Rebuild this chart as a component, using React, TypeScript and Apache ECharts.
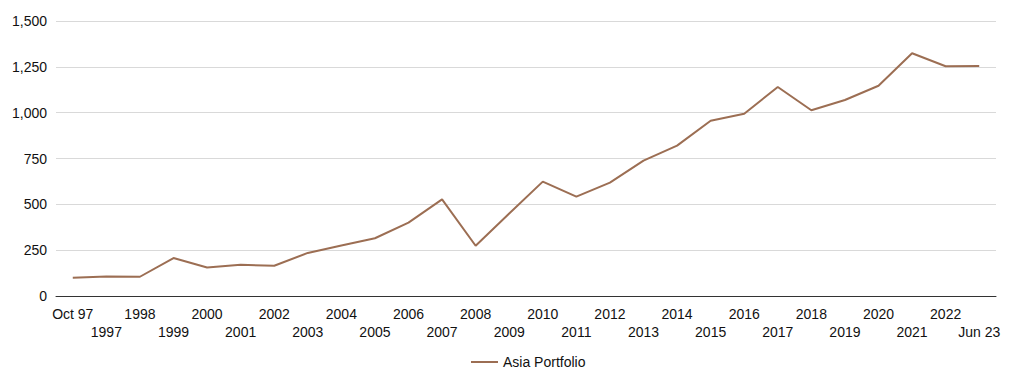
import React, { useEffect, useRef } from "react";
import * as echarts from "echarts";

const categories = [
  "Oct 97", "1997", "1998", "1999", "2000", "2001", "2002", "2003", "2004", "2005",
  "2006", "2007", "2008", "2009", "2010", "2011", "2012", "2013", "2014", "2015",
  "2016", "2017", "2018", "2019", "2020", "2021", "2022", "Jun 23",
];
const asiaPortfolio = [
  100, 107, 105, 207, 155, 170, 165, 235, 276, 315,
  400, 527, 274, 450, 624, 542, 618, 738, 820, 956,
  994, 1140, 1013, 1069, 1147, 1324, 1253, 1255,
];
const seriesName = "Asia Portfolio";

export default function App() {
  const ref = useRef<HTMLDivElement>(null);
  useEffect(() => {
    document.body.style.margin = "0";
    const chart = echarts.init(ref.current!, undefined, { renderer: "svg" });
    const font = "Liberation Sans, Arial, sans-serif";
    chart.setOption({
      animation: false,
      textStyle: { fontFamily: font },
      grid: { left: 56, right: 28, top: 21, bottom: 82, containLabel: false },
      legend: {
        bottom: 4,
        left: 466,
        icon: "rect",
        itemWidth: 27,
        itemHeight: 2,
        itemGap: 10,
        textStyle: { fontSize: 14, color: "#111", fontFamily: font },
        data: [seriesName],
      },
      xAxis: {
        type: "category",
        data: categories,
        boundaryGap: true,
        axisLine: { lineStyle: { color: "#333", width: 1 } },
        axisTick: { show: false },
        axisLabel: {
          interval: 0,
          color: "#111",
          fontSize: 14,
          fontFamily: font,
          margin: 9,
          lineHeight: 18,
          formatter: (v: string, i: number) => (i % 2 === 1 ? "\n" + v : v),
        },
      },
      yAxis: {
        type: "value",
        min: 0,
        max: 1500,
        interval: 250,
        axisLine: { show: false },
        axisTick: { show: false },
        splitLine: { lineStyle: { color: "#d9d9d9", width: 1 } },
        axisLabel: {
          color: "#111",
          fontSize: 14,
          fontFamily: font,
          margin: 9,
          formatter: (v: number) => v.toLocaleString("en-US"),
        },
      },
      series: [
        {
          name: seriesName,
          type: "line",
          data: asiaPortfolio,
          symbol: "none",
          lineStyle: { color: "#9c6e53", width: 2 },
          itemStyle: { color: "#9c6e53" },
        },
      ],
    });
    return () => chart.dispose();
  }, []);
  return <div ref={ref} style={{ width: 1024, height: 378 }} />;
}
